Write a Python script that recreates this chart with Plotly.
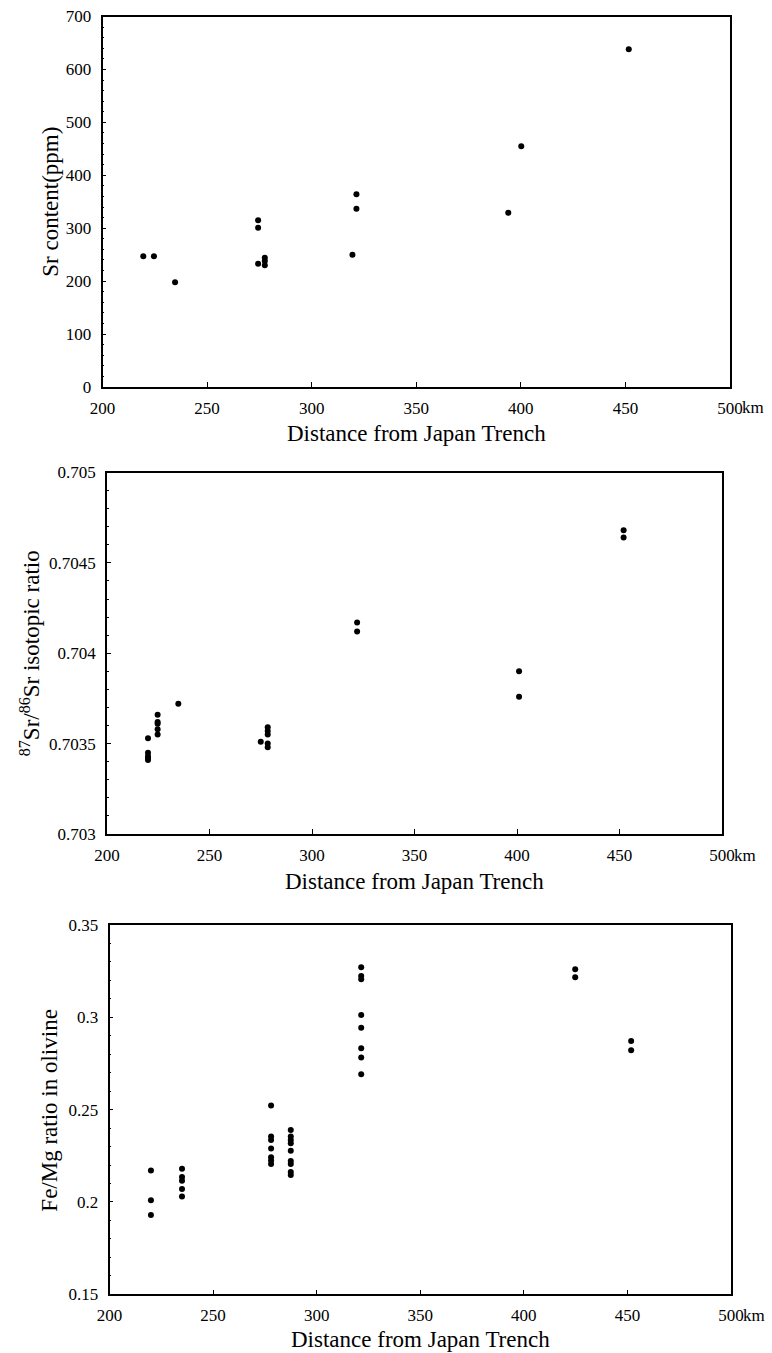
import plotly.graph_objects as go

# ---------------- data ----------------
# Panel 1: Sr content (ppm)
dist_sr = [219.5, 224.6, 234.7, 274.4, 274.4, 274.4, 277.6, 277.6, 277.6,
           319.5, 321.4, 321.4, 394.0, 400.2, 451.6]
sr_ppm = [247, 247, 198, 315, 301, 233, 244, 238, 230,
          250, 364, 337, 329, 455, 638]

# Panel 2: 87Sr/86Sr isotopic ratio
dist_iso = [220.0, 220.0, 220.0, 220.0, 220.0,
            224.7, 224.7, 224.7, 224.7, 224.7,
            234.8, 275.0,
            278.4, 278.4, 278.4, 278.4, 278.4,
            322.0, 322.0, 401.0, 401.0, 452.0, 452.0]
sr_ratio = [0.70353, 0.70345, 0.70343, 0.70342, 0.70341,
            0.70366, 0.70362, 0.70361, 0.70358, 0.70355,
            0.70372, 0.70351,
            0.70359, 0.70357, 0.70355, 0.70350, 0.70348,
            0.70417, 0.70412, 0.70390, 0.70376, 0.70468, 0.70464]

# Panel 3: Fe/Mg ratio in olivine
dist_femg = ([220.0] * 3 + [235.0] * 5 + [278.0] * 7 + [287.5] * 9 +
             [321.5] * 8 + [424.8] * 2 + [451.8] * 2)
femg = [0.217, 0.201, 0.193,
        0.218, 0.2135, 0.2115, 0.207, 0.203,
        0.2522, 0.2354, 0.2336, 0.2289, 0.2242, 0.2224, 0.2206,
        0.239, 0.2354, 0.2336, 0.2318, 0.2278, 0.2222, 0.2206, 0.2162, 0.2146,
        0.3271, 0.3224, 0.3206, 0.3013, 0.2944, 0.2833, 0.2782, 0.2692,
        0.3261, 0.3217,
        0.2872, 0.2822]

x_tickvals = [200, 250, 300, 350, 400, 450, 500]
x_ticktext = ["200", "250", "300", "350", "400", "450", "500"]

y1_tickvals = [0, 100, 200, 300, 400, 500, 600, 700]
y1_ticktext = ["0", "100", "200", "300", "400", "500", "600", "700"]
y2_tickvals = [0.703, 0.7035, 0.704, 0.7045, 0.705]
y2_ticktext = ["0.703", "0.7035", "0.704", "0.7045", "0.705"]
y3_tickvals = [0.15, 0.2, 0.25, 0.3, 0.35]
y3_ticktext = ["0.15", "0.2", "0.25", "0.3", "0.35"]

x_title = "Distance from Japan Trench"
y_titles = ["Sr content(ppm)",
            "<sup>87</sup>Sr/<sup>86</sup>Sr isotopic ratio",
            "Fe/Mg ratio in olivine"]

# ---------------- layout geometry (pixels) ----------------
W, H = 772, 1353
SERIF = "Liberation Serif"
TICKFONT = dict(family=SERIF, size=17, color="black")
TITLEFONT = dict(family=SERIF, size=23, color="black")

panels = [
    # left, right, top, bottom (px)
    dict(l=102.5, r=730, t=16.5, b=387, yr=[0, 700], yt=(y1_tickvals, y1_ticktext), ydt=20),
    dict(l=107, r=722, t=472.5, b=834, yr=[0.703, 0.705], yt=(y2_tickvals, y2_ticktext), ydt=0.0001),
    dict(l=109.5, r=731, t=925, b=1294.3, yr=[0.15, 0.35], yt=(y3_tickvals, y3_ticktext), ydt=0.01),
]
ytitle_x = [51, 30, 50]
xtitle_gap = [46, 47, 45]
series = [(dist_sr, sr_ppm), (dist_iso, sr_ratio), (dist_femg, femg)]

fig = go.Figure()
annotations = []
layout = dict(width=W, height=H, margin=dict(l=0, r=0, t=0, b=0, autoexpand=False),
              paper_bgcolor="white", plot_bgcolor="white", showlegend=False,
              template="none")

for i, (p, (xs, ys)) in enumerate(zip(panels, series), start=1):
    xa = "x" if i == 1 else f"x{i}"
    ya = "y" if i == 1 else f"y{i}"
    fig.add_trace(go.Scatter(x=xs, y=ys, mode="markers", xaxis=xa, yaxis=ya,
                             marker=dict(color="black", size=6, line=dict(width=0)),
                             hoverinfo="x+y"))
    xdom = [p["l"] / W, p["r"] / W]
    ydom = [1 - p["b"] / H, 1 - p["t"] / H]
    layout["xaxis" if i == 1 else f"xaxis{i}"] = dict(
        domain=xdom, anchor=ya, range=[200, 500], tickmode="array",
        tickvals=x_tickvals, ticktext=x_ticktext, ticks="inside", ticklen=5,
        tickwidth=1, tickcolor="black", showline=True, linecolor="black",
        linewidth=1.5, mirror=True, showgrid=False, zeroline=False,
        automargin=False, tickfont=TICKFONT, ticklabelstandoff=5)
    layout["yaxis" if i == 1 else f"yaxis{i}"] = dict(
        domain=ydom, anchor=xa, range=p["yr"], tickmode="array",
        tickvals=p["yt"][0], ticktext=p["yt"][1], ticks="inside", ticklen=4,
        tickwidth=1, tickcolor="black", showline=True, linecolor="black",
        linewidth=1.5, mirror=True, showgrid=False, zeroline=False,
        automargin=False, tickfont=TICKFONT, ticklabelstandoff=6,
        minor=dict(ticks="inside", ticklen=2, tickwidth=1, tickcolor="black",
                   dtick=p["ydt"], tick0=p["yr"][0], showgrid=False))
    # "km" unit after the 500 tick label
    annotations.append(dict(text="km", x=500, xref=xa, xanchor="left", xshift=10,
                            y=1 - (p["b"] + 21) / H, yref="paper", yanchor="middle",
                            showarrow=False, font=TICKFONT))
    # x-axis title
    annotations.append(dict(text=x_title, x=(p["l"] + p["r"]) / 2 / W, xref="paper",
                            xanchor="center", y=1 - (p["b"] + xtitle_gap[i - 1]) / H,
                            yref="paper", yanchor="middle", showarrow=False,
                            font=TITLEFONT))
    # y-axis title
    annotations.append(dict(text=y_titles[i - 1], x=ytitle_x[i - 1] / W, xref="paper",
                            xanchor="center", y=1 - (p["t"] + p["b"]) / 2 / H,
                            yref="paper", yanchor="middle", textangle=-90,
                            showarrow=False, font=TITLEFONT))

layout["annotations"] = annotations
fig.update_layout(**layout)
fig.write_html("out.html",
               config={"displayModeBar": False},
               post_script="document.body.style.margin='0';"
                           "document.body.style.padding='0';"
                           "document.documentElement.style.overflow='hidden';")
